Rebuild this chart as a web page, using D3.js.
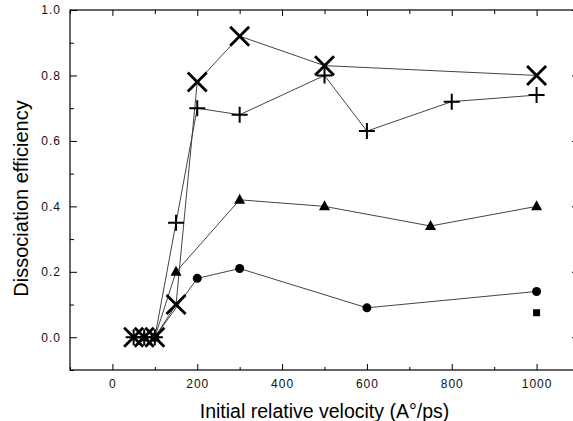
<!DOCTYPE html>
<html><head><meta charset="utf-8">
<script src="https://cdn.jsdelivr.net/npm/d3@7"></script>
<style>body{margin:0;background:#fff}svg{display:block}text{font-family:"Liberation Sans",Arial,sans-serif}</style>
</head><body><div id="chart"></div>
<script>
// Data (velocity in A°/ps, dissociation efficiency)
const seriesX = [[50,0],[75,0],[100,0],[150,0.10],[200,0.78],[300,0.92],[500,0.83],[1000,0.80]];
const seriesPlus = [[50,0],[75,0],[100,0],[150,0.35],[200,0.70],[300,0.68],[500,0.80],[600,0.63],[800,0.72],[1000,0.74]];
const seriesTriangle = [[75,0],[100,0],[150,0.20],[300,0.42],[500,0.40],[750,0.34],[1000,0.40]];
const seriesCircle = [[100,0],[200,0.18],[300,0.21],[600,0.09],[1000,0.14]];
const seriesSquare = [[1000,0.075]];
const xMajor = [0,200,400,600,800,1000];
const xMinor = [-100,100,300,500,700,900,1100];
const yMajor = [0,0.2,0.4,0.6,0.8,1.0];
const yMinor = [-0.1,0.1,0.3,0.5,0.7,0.9];
const xTitle = "Initial relative velocity (A°/ps)";
const yTitle = "Dissociation efficiency";

const W=573,H=421;
const svg=d3.select("#chart").append("svg").attr("width",W).attr("height",H);
const x=d3.scaleLinear().domain([-100,1100]).range([70,579]);
const y=d3.scaleLinear().domain([-0.1,1.0]).range([370,10]);

// frame
svg.append("rect").attr("x",70).attr("y",10).attr("width",509).attr("height",360)
  .attr("fill","none").attr("stroke","#000").attr("stroke-width",1.2);

function styleAxis(g){g.select(".domain").remove();g.selectAll("line").attr("stroke","#000");
  g.selectAll("text").attr("font-size",12).attr("fill","#111").style("letter-spacing","1px");}

svg.append("g").attr("transform","translate(0,370)")
  .call(d3.axisBottom(x).tickValues(xMajor).tickSize(-6).tickPadding(9).tickFormat(d3.format("d"))).call(styleAxis);
svg.append("g").attr("transform","translate(0,370)")
  .call(d3.axisBottom(x).tickValues(xMinor).tickSize(-3).tickFormat("")).call(styleAxis);
svg.append("g").attr("transform","translate(0,10)")
  .call(d3.axisTop(x).tickValues(xMajor).tickSize(-6).tickFormat("")).call(styleAxis);
svg.append("g").attr("transform","translate(0,10)")
  .call(d3.axisTop(x).tickValues(xMinor).tickSize(-4).tickFormat("")).call(styleAxis);
svg.append("g").attr("transform","translate(70,0)")
  .call(d3.axisLeft(y).tickValues(yMajor).tickSize(-7).tickPadding(9).tickFormat(d3.format(".1f"))).call(styleAxis);
svg.append("g").attr("transform","translate(70,0)")
  .call(d3.axisLeft(y).tickValues(yMinor).tickSize(-4).tickFormat("")).call(styleAxis);
svg.append("g").attr("transform","translate(579,0)")
  .call(d3.axisRight(y).tickValues(yMajor).tickSize(-7).tickFormat("")).call(styleAxis);
svg.append("g").attr("transform","translate(579,0)")
  .call(d3.axisRight(y).tickValues(yMinor).tickSize(-4).tickFormat("")).call(styleAxis);

// titles
svg.append("text").attr("x",324.5).attr("y",418).attr("text-anchor","middle")
  .attr("font-size",19.5).attr("fill","#000").text(xTitle);
svg.append("text").attr("transform","translate(28,198.5) rotate(-90)").attr("text-anchor","middle")
  .attr("font-size",20).attr("fill","#000").text(yTitle);

const line=d3.line().x(d=>x(d[0])).y(d=>y(d[1]));
[seriesCircle,seriesTriangle,seriesPlus,seriesX].forEach(s=>{
  svg.append("path").datum(s).attr("d",line).attr("fill","none").attr("stroke","#444").attr("stroke-width",1);
});

// markers
const mk=svg.append("g");
seriesCircle.forEach(d=>mk.append("circle").attr("cx",x(d[0])).attr("cy",y(d[1])).attr("r",4.5).attr("fill","#000"));
seriesSquare.forEach(d=>mk.append("rect").attr("x",x(d[0])-3.5).attr("y",y(d[1])-3.5).attr("width",7).attr("height",7).attr("fill","#000"));
seriesTriangle.forEach(d=>{const cx=x(d[0]),cy=y(d[1]);
  mk.append("path").attr("d",`M${cx},${cy-6}L${cx+5.5},${cy+4}L${cx-5.5},${cy+4}Z`).attr("fill","#000");});
seriesPlus.forEach(d=>{const cx=x(d[0]),cy=y(d[1]),s=8;
  mk.append("path").attr("d",`M${cx-s},${cy}H${cx+s}M${cx},${cy-s}V${cy+s}`).attr("stroke","#000").attr("stroke-width",2).attr("fill","none");});
seriesX.forEach(d=>{const cx=x(d[0]),cy=y(d[1]),s=9.5;
  mk.append("path").attr("d",`M${cx-s},${cy-s}L${cx+s},${cy+s}M${cx-s},${cy+s}L${cx+s},${cy-s}`).attr("stroke","#000").attr("stroke-width",2.8).attr("fill","none");});
</script></body></html>
